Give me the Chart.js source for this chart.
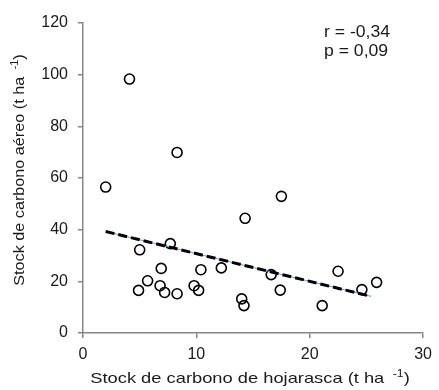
<!DOCTYPE html>
<html><head><meta charset="utf-8">
<script src="https://cdn.jsdelivr.net/npm/chart.js@4"></script>
<style>html,body{margin:0;padding:0;background:#fff}#wrap{width:439px;height:390px}</style>
</head><body><div id="wrap"><canvas id="c" width="439" height="390"></canvas></div>
<script>
// Data
const litterStock = [2.0, 4.1, 8.3, 5.0, 7.7, 6.9, 5.7, 4.9, 6.8, 7.2, 8.3, 9.8, 10.2, 10.4, 12.2, 17.5, 14.3, 16.6, 17.4, 14.0, 14.2, 21.1, 22.5, 24.6, 25.9];
const aboveStock  = [56.5, 98.3, 69.9, 32.2, 34.6, 25.0, 20.2, 16.5, 18.3, 15.7, 15.2, 18.3, 16.5, 24.5, 25.2, 52.9, 44.4, 22.6, 16.6, 13.2, 10.6, 10.6, 23.9, 16.8, 19.6];
const trendX = [2.0, 25.4];
const trendY = [39.3, 14.2];
const xTicks = [0, 10, 20, 30];
const yTicks = [0, 20, 40, 60, 80, 100, 120];
const xTitle = 'Stock de carbono de hojarasca (t ha';
const yTitle = 'Stock de carbono aéreo (t ha';
const titleSup = '-1';
const titleClose = ')';
const statsLines = ['r = -0,34', 'p = 0,09'];

const FONT = '"Liberation Sans", Arial, sans-serif';
const AXIS = '#868686';

function drawTitle(ctx, main, cx, cy, rot, stretch) {
  ctx.save();
  ctx.translate(cx, cy);
  ctx.rotate(rot);
  ctx.scale(stretch, 1);
  ctx.fillStyle = '#1a1a1a';
  ctx.textBaseline = 'alphabetic';
  ctx.font = '15px ' + FONT;
  const w1 = ctx.measureText(main).width;
  ctx.font = '10px ' + FONT;
  const w2 = ctx.measureText(titleSup).width;
  ctx.font = '15px ' + FONT;
  const w3 = ctx.measureText(titleClose).width;
  const gap = 7;
  const total = w1 + gap + w2 + w3;
  let x = -total / 2;
  ctx.fillText(main, x, 5);
  x += w1 + gap;
  ctx.font = '10px ' + FONT;
  ctx.fillText(titleSup, x, -1);
  x += w2;
  ctx.font = '15px ' + FONT;
  ctx.fillText(titleClose, x, 5);
  ctx.restore();
}

const textPlugin = {
  id: 'texts',
  afterDraw(chart) {
    const ctx = chart.ctx;
    drawTitle(ctx, xTitle, 250, 378, 0, 1.22);
    drawTitle(ctx, yTitle, 19, 170, -Math.PI / 2, 1.08);
    ctx.save();
    ctx.fillStyle = '#1a1a1a';
    ctx.font = '16px ' + FONT;
    ctx.textBaseline = 'alphabetic';
    ctx.translate(324, 0);
    ctx.scale(1.1, 1);
    ctx.fillText(statsLines[0], 0, 37);
    ctx.fillText(statsLines[1], 0, 56);
    ctx.restore();
  }
};

function tickSetter(vals) {
  return function (scale) { scale.ticks = vals.map(v => ({ value: v })); };
}

new Chart(document.getElementById('c'), {
  type: 'scatter',
  data: {
    datasets: [
      {
        type: 'line',
        data: trendX.map((x, i) => ({ x: x, y: trendY[i] })),
        borderColor: '#5B9BD5', borderWidth: 1, pointRadius: 0, fill: false, order: 2
      },
      {
        type: 'line',
        data: trendX.map((x, i) => ({ x: x, y: trendY[i] })),
        borderColor: '#000', borderWidth: 3, borderDash: [9, 4], pointRadius: 0, fill: false, order: 1
      },
      {
        data: litterStock.map((x, i) => ({ x: x, y: aboveStock[i] })),
        pointRadius: 5, pointBorderWidth: 1.6, pointBorderColor: '#000', pointBackgroundColor: 'rgba(255,255,255,0)',
        order: 3
      }
    ]
  },
  options: {
    responsive: false, animation: false, devicePixelRatio: 1,
    layout: { padding: { top: 23, right: 11, left: 0, bottom: 0 } },
    plugins: { legend: { display: false }, tooltip: { enabled: false } },
    scales: {
      x: {
        type: 'linear', min: 0, max: 30,
        afterBuildTicks: tickSetter(xTicks),
        afterFit(s) { s.height = 57; },
        grid: { drawOnChartArea: false, drawTicks: true, tickLength: 5, color: AXIS, lineWidth: 1.5 },
        border: { display: true, color: AXIS, width: 1.5 },
        ticks: { color: '#1a1a1a', font: { family: FONT, size: 16 }, padding: 7, maxRotation: 0 }
      },
      y: {
        type: 'linear', min: 0, max: 120,
        afterBuildTicks: tickSetter(yTicks),
        afterFit(s) { s.width = 83; },
        grid: { drawOnChartArea: false, drawTicks: true, tickLength: 5, color: AXIS, lineWidth: 1.5 },
        border: { display: true, color: AXIS, width: 1.5 },
        ticks: { color: '#1a1a1a', font: { family: FONT, size: 16 }, padding: 10 }
      }
    }
  },
  plugins: [textPlugin]
});
</script>
</body></html>
